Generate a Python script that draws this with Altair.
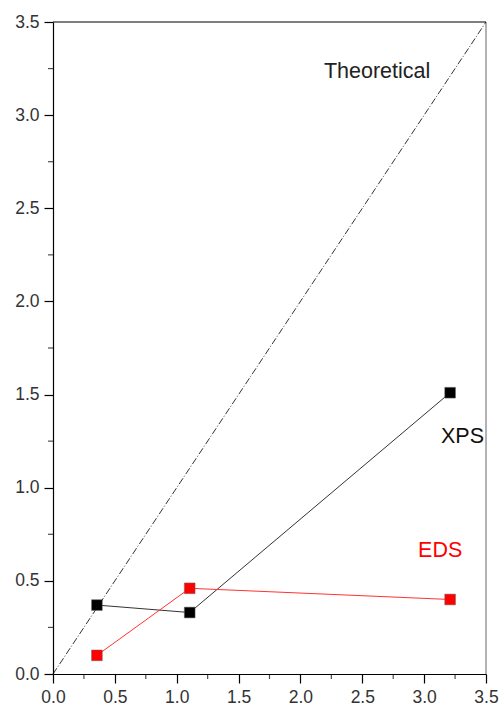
import altair as alt
import pandas as pd

conc = [0.355, 1.105, 3.21]
xps = [0.37, 0.33, 1.51]
eds = [0.10, 0.46, 0.40]
theory_x = [0.0, 3.5]
theory_y = [0.0, 3.5]
ticks = [0, 0.5, 1.0, 1.5, 2.0, 2.5, 3.0, 3.5]
minor = [0.25, 0.75, 1.25, 1.75, 2.25, 2.75, 3.25]

df = pd.DataFrame({"x": conc * 2, "y": xps + eds,
                   "series": ["XPS"] * 3 + ["EDS"] * 3})
dth = pd.DataFrame({"x": theory_x, "y": theory_y})
labels = pd.DataFrame({"x": [2.62, 3.31, 3.13], "y": [3.23, 1.27, 0.66],
                       "text": ["Theoretical", "XPS", "EDS"],
                       "color": ["#222222", "#111111", "#ff0000"]})

W, H = 433, 652
xs = alt.Scale(domain=[0, 3.5], nice=False)
ys = alt.Scale(domain=[0, 3.5], nice=False)

def ax():
    return alt.Axis(values=ticks, format=".1f", tickSize=9, tickColor="black",
                    domainColor="black", labelFontSize=17.5, labelColor="#333",
                    labelFont="Liberation Sans", labelPadding=5, grid=False, title=None,
                    labelFlush=False, labelOverlap=False)

theory = alt.Chart(dth).mark_line(color="black", strokeWidth=0.8,
                                  strokeDash=[7, 2, 1, 2]).encode(
    x=alt.X("x:Q", scale=xs, axis=ax()),
    y=alt.Y("y:Q", scale=ys, axis=ax()))

minor_df = pd.DataFrame({"v": minor})
minor_x = alt.Chart(minor_df).mark_tick(color="black", size=5, thickness=1.2, orient="vertical").encode(
    x=alt.X("v:Q", scale=xs), y=alt.value(H + 2.5))
minor_y = alt.Chart(minor_df).mark_tick(color="black", size=5, thickness=1.2, orient="horizontal").encode(
    y=alt.Y("v:Q", scale=ys), x=alt.value(-2.5))

cmap = alt.Scale(domain=["XPS", "EDS"], range=["#000000", "#ff0000"])
lines_xps = alt.Chart(df[df.series == "XPS"]).mark_line(strokeWidth=1, color="#333").encode(
    x=alt.X("x:Q", scale=xs), y=alt.Y("y:Q", scale=ys))
lines_eds = alt.Chart(df[df.series == "EDS"]).mark_line(strokeWidth=1, color="#ff3333").encode(
    x=alt.X("x:Q", scale=xs), y=alt.Y("y:Q", scale=ys))
pts = alt.Chart(df).mark_square(size=115, opacity=1, stroke="#666", strokeWidth=0.5).encode(
    x=alt.X("x:Q", scale=xs), y=alt.Y("y:Q", scale=ys),
    color=alt.Color("series:N", scale=cmap, legend=None))

text = alt.Chart(labels).mark_text(fontSize=21.5, font="Liberation Sans").encode(
    x=alt.X("x:Q", scale=xs), y=alt.Y("y:Q", scale=ys),
    text="text:N", color=alt.Color("color:N", scale=None))

right = alt.Chart(pd.DataFrame({"a": [0]})).mark_rule(color="#666", strokeWidth=1).encode(
    x=alt.value(W), y=alt.value(0), y2=alt.value(H))
top = alt.Chart(pd.DataFrame({"a": [0]})).mark_rule(color="black", strokeWidth=1.2).encode(
    x=alt.value(0), x2=alt.value(W), y=alt.value(0))

chart = alt.layer(theory, minor_x, minor_y, lines_xps, lines_eds, pts, text, right, top).properties(
    width=W, height=H,
    autosize=alt.AutoSizeParams(type="none"),
    padding={"left": 53, "top": 22, "right": 13, "bottom": 33},
).configure_view(stroke=None).configure_axis(domainWidth=1.2, tickWidth=1.2)

chart.save("out.html", embed_options={"renderer": "svg", "actions": False})
